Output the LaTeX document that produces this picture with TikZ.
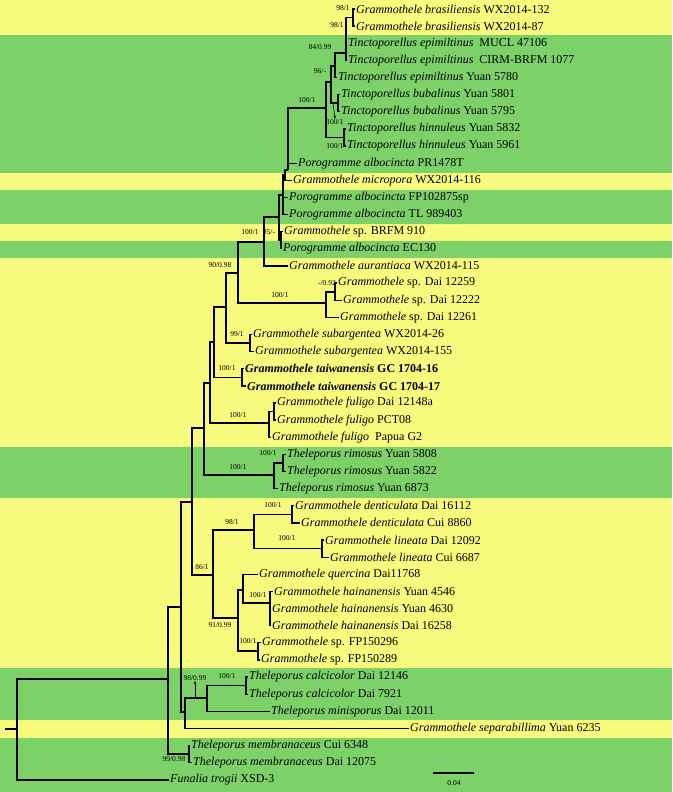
\documentclass[tikz,border=0pt]{standalone}
\usepackage{fontspec}
\setmainfont{Liberation Serif}
\usetikzlibrary{arrows.meta}
\definecolor{bandyellow}{RGB}{247,250,125}
\definecolor{bandgreen}{RGB}{125,209,105}
\newcommand{\taxon}[2]{\textit{#1} #2}

\begin{document}
\begin{tikzpicture}[x=1pt,y=-1pt,
    leaf/.style={anchor=west,inner sep=1pt,font=\fontsize{12}{12}\selectfont},
    support/.style={inner sep=0pt,font=\fontsize{7.5}{7.5}\selectfont},
    branch/.style={draw,line width=1.3pt},
    pointer/.style={draw,line width=0.6pt,-{Latex[length=3pt,width=2.5pt]}}]
        \useasboundingbox (0,0) rectangle (672,792);
        % bands
        \fill[bandyellow] (0,0) rectangle (672,792);
        \fill[bandgreen] (0,35) rectangle (672,173);
        \fill[bandgreen] (0,190) rectangle (672,224);
        \fill[bandgreen] (0,241) rectangle (672,258);
        \fill[bandgreen] (0,447) rectangle (672,498);
        \fill[bandgreen] (0,668) rectangle (672,720);
        \fill[bandgreen] (0,738) rectangle (672,792);
        % leaves
        \node[leaf](bras1)at(355,9){\taxon{Grammothele brasiliensis}{WX2014-132}};
        \node[leaf](bras2)at(355,26.1){\taxon{Grammothele brasiliensis}{WX2014-87}};
        \node[leaf](epi1)at(347,43.3){\taxon{Tinctoporellus epimiltinus}{\ MUCL 47106}};
        \node[leaf](epi2)at(347,60.4){\taxon{Tinctoporellus epimiltinus}{\ CIRM-BRFM 1077}};
        \node[leaf](epi3)at(337,77.5){\taxon{Tinctoporellus epimiltinus}{Yuan 5780}};
        \node[leaf](bub1)at(340,94.7){\taxon{Tinctoporellus bubalinus}{Yuan 5801}};
        \node[leaf](bub2)at(340,111.8){\taxon{Tinctoporellus bubalinus}{Yuan 5795}};
        \node[leaf](hin1)at(346,128.9){\taxon{Tinctoporellus hinnuleus}{Yuan 5832}};
        \node[leaf](hin2)at(346,146){\taxon{Tinctoporellus hinnuleus}{Yuan 5961}};
        \node[leaf](alb1)at(297,163.2){\taxon{Porogramme albocincta}{PR1478T}};
        \node[leaf](mic)at(292,180.3){\taxon{Grammothele micropora}{WX2014-116}};
        \node[leaf](alb2)at(288,197.4){\taxon{Porogramme albocincta}{FP102875sp}};
        \node[leaf](alb3)at(288,214.6){\taxon{Porogramme albocincta}{TL 989403}};
        \node[leaf](brfm)at(283,231.7){\taxon{Grammothele}{sp. BRFM 910}};
        \node[leaf](alb4)at(282,248.8){\taxon{Porogramme albocincta}{EC130}};
        \node[leaf](aur)at(288,265.9){\taxon{Grammothele aurantiaca}{WX2014-115}};
        \node[leaf](dai1)at(337,283.1){\taxon{Grammothele}{sp. Dai 12259}};
        \node[leaf](dai2)at(342,300.2){\taxon{Grammothele}{sp. Dai 12222}};
        \node[leaf](dai3)at(339,317.3){\taxon{Grammothele}{sp. Dai 12261}};
        \node[leaf](sub1)at(252,334.5){\taxon{Grammothele subargentea}{WX2014-26}};
        \node[leaf](sub2)at(254,351.6){\taxon{Grammothele subargentea}{WX2014-155}};
        \node[leaf](tai1)at(244,368.7){\bfseries\taxon{Grammothele taiwanensis}{GC 1704-16}};
        \node[leaf](tai2)at(246,385.9){\bfseries\taxon{Grammothele taiwanensis}{GC 1704-17}};
        \node[leaf](ful1)at(276,403){\taxon{Grammothele fuligo}{Dai 12148a}};
        \node[leaf](ful2)at(276,420.1){\taxon{Grammothele fuligo}{PCT08}};
        \node[leaf](ful3)at(271,437.3){\taxon{Grammothele fuligo}{\ Papua G2}};
        \node[leaf](rim1)at(286,454.4){\taxon{Theleporus rimosus}{Yuan 5808}};
        \node[leaf](rim2)at(286,471.5){\taxon{Theleporus rimosus}{Yuan 5822}};
        \node[leaf](rim3)at(278,488.6){\taxon{Theleporus rimosus}{Yuan 6873}};
        \node[leaf](den1)at(294,505.8){\taxon{Grammothele denticulata}{Dai 16112}};
        \node[leaf](den2)at(300,522.9){\taxon{Grammothele denticulata}{Cui 8860}};
        \node[leaf](lin1)at(324,540){\taxon{Grammothele lineata}{Dai 12092}};
        \node[leaf](lin2)at(329,557.2){\taxon{Grammothele lineata}{Cui 6687}};
        \node[leaf](que)at(258,574.3){\taxon{Grammothele quercina}{Dai11768}};
        \node[leaf](hai1)at(273,591.4){\taxon{Grammothele hainanensis}{Yuan 4546}};
        \node[leaf](hai2)at(271,608.6){\taxon{Grammothele hainanensis}{Yuan 4630}};
        \node[leaf](hai3)at(271,625.7){\taxon{Grammothele hainanensis}{Dai 16258}};
        \node[leaf](fp1)at(261,642.8){\taxon{Grammothele}{sp. FP150296}};
        \node[leaf](fp2)at(260,660){\taxon{Grammothele}{sp. FP150289}};
        \node[leaf](cal1)at(248,677.1){\taxon{Theleporus calcicolor}{Dai 12146}};
        \node[leaf](cal2)at(248,694.2){\taxon{Theleporus calcicolor}{Dai 7921}};
        \node[leaf](mini)at(270,711.3){\taxon{Theleporus minisporus}{Dai 12011}};
        \node[leaf](sep)at(409,728.5){\taxon{Grammothele separabillima}{Yuan 6235}};
        \node[leaf](mem1)at(190,745.6){\taxon{Theleporus membranaceus}{Cui 6348}};
        \node[leaf](mem2)at(192,762.7){\taxon{Theleporus membranaceus}{Dai 12075}};
        \node[leaf](fun)at(169,779.9){\taxon{Funalia trogii}{XSD-3}};
        % internal nodes
        \coordinate(na)at(353,17.5);   \coordinate(nb)at(346,53);
        \coordinate(nc)at(335,66);     \coordinate(nv)at(331,82);
        \coordinate(nbub)at(338,103);  \coordinate(nhin)at(344,137.5);
        \coordinate(nt)at(326,108);    \coordinate(ns)at(288,170);
        \coordinate(ns2)at(285,175);   \coordinate(nr)at(283,195);
        \coordinate(nq)at(279,217);    \coordinate(nbe)at(281,240);
        \coordinate(np)at(264,242);    \coordinate(naa)at(238,273);
        \coordinate(nd)at(326,303);    \coordinate(ne)at(335,292);
        \coordinate(nbb)at(226,307);   \coordinate(nsub)at(250,343);
        \coordinate(ncc)at(214,342);   \coordinate(ntai)at(242,377.3);
        \coordinate(ndd)at(210,383);   \coordinate(nful)at(269,423);
        \coordinate(nful2)at(274,411.5);\coordinate(nee)at(204,428);
        \coordinate(nrim)at(274,475);  \coordinate(nrim2)at(283,463);
        \coordinate(nf)at(192,502);    \coordinate(ng)at(213,575);
        \coordinate(nh)at(254,530);    \coordinate(nden)at(292,514.3);
        \coordinate(nlin)at(322,548.6);\coordinate(ni)at(238,618);
        \coordinate(nj)at(243,590);    \coordinate(nhai)at(270,603);
        \coordinate(nfp)at(258,651);   \coordinate(nk)at(181,607);
        \coordinate(nl)at(185,712);    \coordinate(nm)at(207,698);
        \coordinate(ncal)at(246,685.6);\coordinate(ntop)at(168,679);
        \coordinate(nmem)at(189,754);  \coordinate(nroot)at(17,729);
        \coordinate(stub)at(5,729);
        % branches
        \foreach \p/\c in {na/bras1,na/bras2,nb/na,nb/epi1,nb/epi2,nc/nb,nc/epi3,
            nv/nc,nv/nbub,nbub/bub1,nbub/bub2,nt/nv,nt/nhin,nhin/hin1,nhin/hin2,
            ns/nt,ns/alb1,ns2/ns,ns2/mic,nr/ns2,nr/alb2,nr/alb3,nq/nr,nq/nbe,
            nbe/brfm,nbe/alb4,np/nq,np/aur,naa/np,naa/nd,nd/ne,nd/dai3,ne/dai1,ne/dai2,
            nbb/naa,nbb/nsub,nsub/sub1,nsub/sub2,ncc/nbb,ncc/ntai,ntai/tai1,ntai/tai2,
            ndd/ncc,ndd/nful,nful/nful2,nful/ful3,nful2/ful1,nful2/ful2,
            nee/ndd,nee/nrim,nrim/nrim2,nrim/rim3,nrim2/rim1,nrim2/rim2,
            nf/nee,nf/ng,ng/nh,ng/ni,nh/nden,nh/nlin,nden/den1,nden/den2,
            nlin/lin1,nlin/lin2,ni/nj,ni/nfp,nj/que,nj/nhai,nhai/hai1,nhai/hai2,
            nhai/hai3,nfp/fp1,nfp/fp2,nk/nf,nk/nl,nl/nm,nl/sep,nm/ncal,nm/mini,
            ncal/cal1,ncal/cal2,ntop/nk,ntop/nmem,nmem/mem1,nmem/mem2,
            nroot/ntop,nroot/fun}
            \path[branch](\p)|-(\c);
        \path[branch](stub)--(nroot);
        % support values
        \node[support](s1)at(343,8){98/1};
        \node[support](s2)at(337,25){98/1};
        \node[support](s3)at(320,47){84/0.99};
        \node[support](s4)at(320,71){96/-};
        \node[support](s5)at(307,100){100/1};
        \node[support](s6)at(335,122){100/1};
        \node[support](s7)at(335,146){100/1};
        \node[support](s8)at(269,232){95/-};
        \node[support](s9)at(250,232){100/1};
        \node[support](s10)at(220,265){90/0.98};
        \node[support](s11)at(327,283){-/0.92};
        \node[support](s12)at(280,295){100/1};
        \node[support](s13)at(237,334){99/1};
        \node[support](s14)at(227,368){100/1};
        \node[support](s15)at(238,415){100/1};
        \node[support](s16)at(268,453){100/1};
        \node[support](s17)at(238,467){100/1};
        \node[support](s18)at(273,505){100/1};
        \node[support](s19)at(232,522){98/1};
        \node[support](s20)at(287,538){100/1};
        \node[support](s21)at(202,567){86/1};
        \node[support](s22)at(258,595){100/1};
        \node[support](s23)at(220,625){91/0.99};
        \node[support](s24)at(248,641){100/1};
        \node[support](s25)at(195,678){98/0.99};
        \node[support](s26)at(227,676){100/1};
        \node[support](s27)at(174,759){99/0.98};
        % pointers
        \coordinate(a1)at(333,103); \coordinate(a2)at(195,697);
        \path[pointer](a1)--(s6.north);
        \path[pointer](a2)--(s25.south);
        % scale bar
        \coordinate(bar1)at(433,773); \coordinate(bar2)at(474,773);
        \path[draw,line width=1.6pt](bar1)--(bar2);
        \node[support](barlab)at(454,783){0.04};
\end{tikzpicture}
\end{document}
